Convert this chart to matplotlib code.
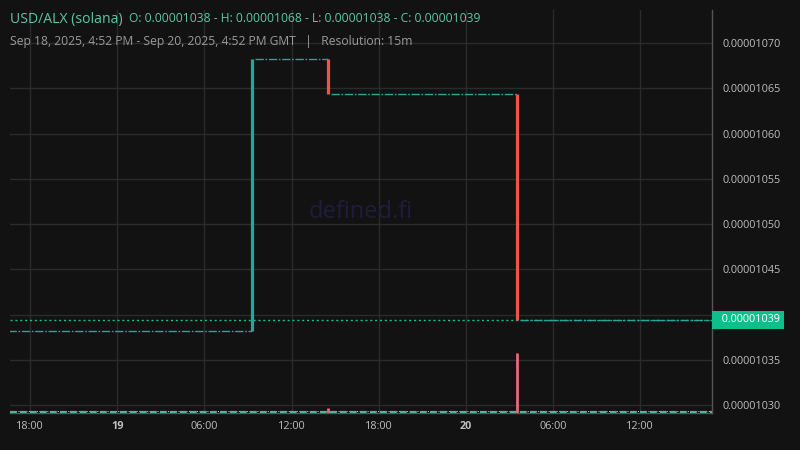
import matplotlib
matplotlib.use("Agg")
import matplotlib.pyplot as plt
import matplotlib.dates as mdates
import matplotlib.transforms as mtransforms
import pandas as pd

plt.rcParams['font.family'] = ['Open Sans', 'DejaVu Sans']

# flat stretches (every 15m candle O=H=L=C)
seg_start = ["2025-09-18 16:30", "2025-09-19 09:30", "2025-09-19 14:45", "2025-09-20 03:45"]
seg_end = ["2025-09-19 09:15", "2025-09-19 14:30", "2025-09-20 03:30", "2025-09-20 16:45"]
seg_price = [1.03820e-5, 1.06820e-5, 1.06440e-5, 1.03940e-5]

# candles that moved
move_time = ["2025-09-19 09:15", "2025-09-19 14:30", "2025-09-20 03:30"]
move_open = [1.03820e-5, 1.06820e-5, 1.06440e-5]
move_close = [1.06820e-5, 1.06440e-5, 1.03940e-5]

# volume (arbitrary units)
vol_time = ["2025-09-19 14:30", "2025-09-20 03:30"]
vol_value = [5.5, 60.0]
base_vol = 1.6

last_price = 1.03940e-5
y_ticks = [1.030e-5, 1.035e-5, 1.040e-5, 1.045e-5, 1.050e-5, 1.055e-5, 1.060e-5, 1.065e-5, 1.070e-5]
x_ticks = ["2025-09-18 18:00", "2025-09-19 00:00", "2025-09-19 06:00", "2025-09-19 12:00",
           "2025-09-19 18:00", "2025-09-20 00:00", "2025-09-20 06:00", "2025-09-20 12:00"]
x_labels = ["18:00", "19", "06:00", "12:00", "18:00", "20", "06:00", "12:00"]
x_range = ["2025-09-18 16:37", "2025-09-20 16:57"]

BG = "#121212"
GREEN = "#26a69a"
RED = "#ef5350"
GRID = "#2b2b2b"

def d(s):
    return mdates.date2num(pd.to_datetime(s))

fig = plt.figure(figsize=(8, 4.5), dpi=100, facecolor=BG)
pos = [10 / 800, 1 - 413 / 450, 702 / 800, 403 / 450]
ax = fig.add_axes(pos, facecolor=BG)
vax = fig.add_axes(pos, sharex=ax)
vax.patch.set_visible(False)
vax.axis("off")

# watermark
ax.text(0.5, 0.5, "defined.fi", transform=ax.transAxes, ha="center", va="center",
        fontsize=17, color="#1f1d3c", zorder=0.6)

# flat lines
for s, e, p in zip(seg_start, seg_end, seg_price):
    ax.hlines(p, d(s), d(e), color=GREEN, lw=1.0, linestyles=[(0, (6, 1.2, 1.2, 1.2))], zorder=3)

# current price line
ax.axhline(last_price, color="#13c18f", lw=1.0, ls=(0, (1.5, 2)), zorder=2.8)

# candles
for t, o, c in zip(move_time, move_open, move_close):
    col = GREEN if c >= o else RED
    ax.vlines(d(t), o, c, color=col, lw=2.3, zorder=4)

# volume
vax.hlines(base_vol * 0.6, d(x_range[0]), d(x_range[1]), color="#4fb59c", lw=1.6,
           linestyles=[(0, (3, 1.5))], zorder=2)
vax.hlines(base_vol, d(x_range[0]), d(x_range[1]), color="#bdbdbd", lw=0.7,
           linestyles=[(0, (1.2, 1.5))], zorder=1)
for t, v in zip(vol_time, vol_value):
    vax.vlines(d(t), 0, v, color="#e8697a", lw=2.0, zorder=3)
vax.set_ylim(0, 403)

ax.set_xlim(d(x_range[0]), d(x_range[1]))
ax.set_ylim(1.02912e-5, 1.07365e-5)
ax.set_xticks([d(t) for t in x_ticks])
ax.set_xticklabels(x_labels)
for lab, txt in zip(ax.get_xticklabels(), x_labels):
    if ":" not in txt:
        lab.set_fontweight("bold")
        lab.set_color("#dddddd")
ax.set_yticks(y_ticks)
ax.set_yticklabels(["%.8f" % v for v in y_ticks])
ax.yaxis.tick_right()
ax.tick_params(axis="y", length=0, pad=7.5, labelsize=7.8, labelcolor="#bdbdbd")
ax.tick_params(axis="x", length=0, pad=6, labelsize=7.8, labelcolor="#bdbdbd")
ax.grid(True, color=GRID, lw=1.0)
ax.set_axisbelow(True)
for side in ["top", "left"]:
    ax.spines[side].set_visible(False)
for side in ["right", "bottom"]:
    ax.spines[side].set_color("#555555")
    ax.spines[side].set_linewidth(1.0)

# price label on axis
trans = mtransforms.blended_transform_factory(ax.transAxes, ax.transData)
ax.annotate("  0.00001039", xy=(1.0, last_price), xycoords=trans,
            xytext=(2.8, 0), textcoords="offset points", ha="left", va="center",
            fontsize=7.8, color="white", zorder=10, annotation_clip=False,
            bbox=dict(boxstyle="square,pad=0.35", fc="#0fbf8b", ec="none"))

# header
fig.text(10 / 800, 1 - 19 / 450, "USD/ALX (solana)", fontsize=10.1, color="#5ec6a6", va="center")
fig.text(129 / 800, 1 - 19 / 450,
         "O: 0.00001038 - H: 0.00001068 - L: 0.00001038 - C: 0.00001039",
         fontsize=8.7, color="#5ec6a6", va="center")
fig.text(10 / 800, 1 - 41 / 450,
         "Sep 18, 2025, 4:52 PM - Sep 20, 2025, 4:52 PM GMT   |   Resolution: 15m",
         fontsize=8.7, color="#9a9a9a", va="center")

fig.savefig("out.png", dpi=100, facecolor=BG)
